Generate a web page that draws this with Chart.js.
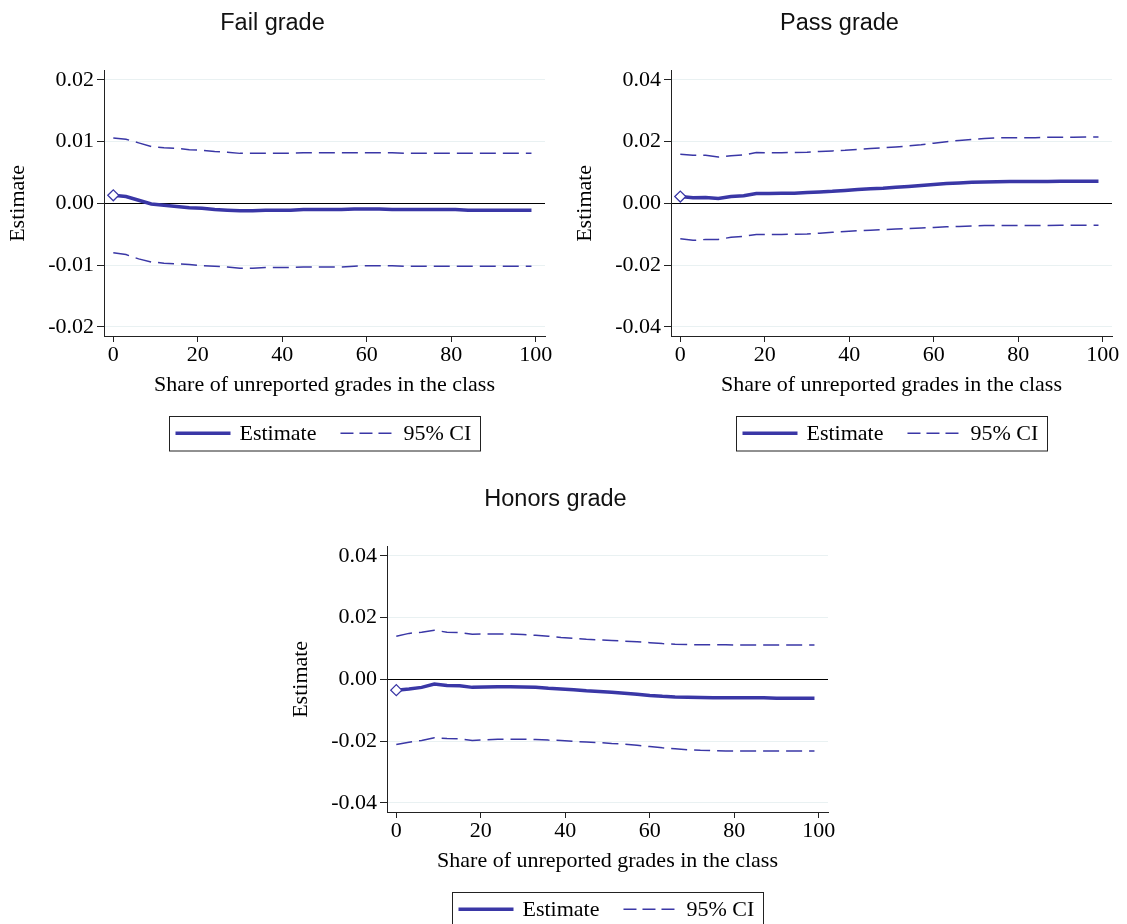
<!DOCTYPE html>
<html>
<head>
<meta charset="utf-8">
<title>Estimates by share of unreported grades</title>
<script src="https://cdn.jsdelivr.net/npm/chart.js@4.4.1/dist/chart.umd.min.js"></script>
<style>
    html, body { margin: 0; padding: 0; background: #fff; overflow: hidden; }
    #wrap { position: relative; width: 1127px; height: 924px; }
    #wrap canvas { position: absolute; }
</style>
</head>
<body>
<div id="wrap">
    <canvas id="failChart" width="553" height="460" style="left:0px;top:0px"></canvas>
    <canvas id="passChart" width="553" height="460" style="left:567px;top:0px"></canvas>
    <canvas id="honorsChart" width="553" height="460" style="left:283px;top:476px"></canvas>
</div>
<script>
// Share of unreported grades in the class (x values)
const shareX = [0, 3, 6, 9, 12, 15, 18, 21, 24, 27, 30, 33, 36, 39, 42, 45, 48,
    51, 54, 57, 60, 63, 66, 69, 72, 75, 78, 81, 84, 87, 90, 93, 96, 99];
const xTicks = [0, 20, 40, 60, 80, 100];

// Fail grade
const failEstimate = [0.0013, 0.0011, 0.0005, -0.0001, -0.0003, -0.0005, -0.0007, -0.0008, -0.0010, -0.0011,
    -0.0012, -0.0012, -0.0011, -0.0011, -0.0011, -0.0010, -0.0010, -0.0010, -0.0010, -0.0009,
    -0.0009, -0.0009, -0.0010, -0.0010, -0.0010, -0.0010, -0.0010, -0.0010, -0.0011, -0.0011,
    -0.0011, -0.0011, -0.0011, -0.0011];
const failUpper = [0.0106, 0.0104, 0.0098, 0.0092, 0.0090, 0.0089, 0.0087, 0.0086, 0.0084, 0.0083,
    0.0081, 0.0081, 0.0081, 0.0081, 0.0081, 0.0082, 0.0082, 0.0082, 0.0082, 0.0082,
    0.0082, 0.0082, 0.0082, 0.0081, 0.0081, 0.0081, 0.0081, 0.0081, 0.0081, 0.0081,
    0.0081, 0.0081, 0.0081, 0.0081];
const failLower = [-0.0080, -0.0083, -0.0090, -0.0095, -0.0097, -0.0098, -0.0099, -0.0101, -0.0102, -0.0103,
    -0.0105, -0.0105, -0.0104, -0.0104, -0.0104, -0.0103, -0.0103, -0.0103, -0.0103, -0.0102,
    -0.0101, -0.0101, -0.0101, -0.0102, -0.0102, -0.0102, -0.0102, -0.0102, -0.0102, -0.0102,
    -0.0102, -0.0102, -0.0102, -0.0102];
const failTicks = [-0.02, -0.01, 0, 0.01, 0.02];

// Pass grade
const passEstimate = [0.0022, 0.0018, 0.0019, 0.0016, 0.0022, 0.0025, 0.0032, 0.0032, 0.0033, 0.0033,
    0.0035, 0.0037, 0.0039, 0.0042, 0.0045, 0.0047, 0.0049, 0.0052, 0.0055, 0.0058,
    0.0061, 0.0064, 0.0066, 0.0068, 0.0069, 0.0070, 0.0071, 0.0071, 0.0071, 0.0071,
    0.0072, 0.0072, 0.0072, 0.0072];
const passUpper = [0.0159, 0.0156, 0.0156, 0.0150, 0.0154, 0.0157, 0.0165, 0.0164, 0.0164, 0.0165,
    0.0166, 0.0168, 0.0170, 0.0172, 0.0175, 0.0178, 0.0180, 0.0183, 0.0186, 0.0190,
    0.0195, 0.0200, 0.0204, 0.0207, 0.0210, 0.0212, 0.0213, 0.0213, 0.0213, 0.0214,
    0.0214, 0.0214, 0.0215, 0.0215];
const passLower = [-0.0115, -0.0120, -0.0117, -0.0117, -0.0110, -0.0107, -0.0101, -0.0101, -0.0101, -0.0100,
    -0.0099, -0.0097, -0.0094, -0.0091, -0.0089, -0.0087, -0.0085, -0.0083, -0.0082, -0.0080,
    -0.0078, -0.0076, -0.0075, -0.0073, -0.0072, -0.0072, -0.0072, -0.0072, -0.0072, -0.0072,
    -0.0071, -0.0071, -0.0071, -0.0071];
const passTicks = [-0.04, -0.02, 0, 0.02, 0.04];

// Honors grade
const honorsEstimate = [-0.0035, -0.0031, -0.0026, -0.0015, -0.0020, -0.0021, -0.0026, -0.0025, -0.0024, -0.0024,
    -0.0025, -0.0026, -0.0029, -0.0031, -0.0034, -0.0037, -0.0039, -0.0042, -0.0045, -0.0048,
    -0.0052, -0.0055, -0.0057, -0.0058, -0.0059, -0.0060, -0.0060, -0.0060, -0.0060, -0.0060,
    -0.0061, -0.0061, -0.0061, -0.0061];
const honorsUpper = [0.0140, 0.0149, 0.0153, 0.0159, 0.0153, 0.0152, 0.0146, 0.0147, 0.0147, 0.0147,
    0.0145, 0.0143, 0.0140, 0.0136, 0.0133, 0.0130, 0.0128, 0.0126, 0.0124, 0.0122,
    0.0119, 0.0116, 0.0114, 0.0113, 0.0112, 0.0112, 0.0112, 0.0111, 0.0111, 0.0111,
    0.0111, 0.0111, 0.0111, 0.0111];
const honorsLower = [-0.0211, -0.0204, -0.0198, -0.0189, -0.0192, -0.0193, -0.0198, -0.0196, -0.0194, -0.0194,
    -0.0194, -0.0195, -0.0197, -0.0198, -0.0201, -0.0203, -0.0205, -0.0208, -0.0210, -0.0214,
    -0.0218, -0.0222, -0.0225, -0.0228, -0.0230, -0.0231, -0.0232, -0.0232, -0.0232, -0.0232,
    -0.0232, -0.0232, -0.0232, -0.0232];
const honorsTicks = [-0.04, -0.02, 0, 0.02, 0.04];

const LINE_COLOR = '#3a37a6';
const SERIF = "'Liberation Serif', 'Times New Roman', serif";
const SANS = "'Liberation Sans', Arial, sans-serif";

// Boxed legend below the x axis title, centred on the plot area
const boxLegend = {
    id: 'boxLegend',
    afterDraw(chart) {
        const ctx = chart.ctx;
        const area = chart.chartArea;
        const entries = [
            { text: 'Estimate', width: 3.5, dash: [], sample: 55, gap: 9 },
            { text: '95% CI', width: 1.5, dash: [13, 6], sample: 51, gap: 12 }
        ];
        ctx.save();
        ctx.font = '22px ' + SERIF;
        let total = 6 + 9;
        entries.forEach((e, i) => {
            e.textW = ctx.measureText(e.text).width;
            total += e.sample + e.gap + e.textW + (i > 0 ? 24 : 0);
        });
        const top = area.bottom + 80;
        const h = 34.5;
        const left = Math.round((area.left + area.right) / 2 - total / 2) + 0.5;
        ctx.strokeStyle = '#222';
        ctx.lineWidth = 1;
        ctx.strokeRect(left, Math.round(top) + 0.5, Math.round(total), h);

        const cy = top + h / 2;
        let x = left + 6;
        entries.forEach((e, i) => {
            if (i > 0) x += 24;
            ctx.beginPath();
            ctx.strokeStyle = LINE_COLOR;
            ctx.lineWidth = e.width;
            ctx.setLineDash(e.dash);
            ctx.moveTo(x, cy);
            ctx.lineTo(x + e.sample, cy);
            ctx.stroke();
            ctx.setLineDash([]);
            x += e.sample + e.gap;
            ctx.fillStyle = '#000';
            ctx.textBaseline = 'middle';
            ctx.textAlign = 'left';
            ctx.fillText(e.text, x, cy + 1);
            x += e.textW;
        });
        ctx.restore();
    }
};

function buildPoints(values) {
    return values.map((v, i) => ({ x: shareX[i], y: v }));
}

function createPanel(canvasId, title, estimate, upper, lower, yTicks, yLimit) {
    const ctx = document.getElementById(canvasId);
    return new Chart(ctx, {
        type: 'line',
        data: {
            datasets: [{
                label: 'Estimate',
                data: buildPoints(estimate),
                borderColor: LINE_COLOR,
                borderWidth: 3.5,
                tension: 0,
                pointStyle: 'rectRot',
                pointRadius: c => (c.dataIndex === 0 ? 5.5 : 0),
                pointBackgroundColor: '#fff',
                pointBorderColor: LINE_COLOR,
                pointBorderWidth: 1.3,
                order: 0
            }, {
                label: '95% CI',
                data: buildPoints(upper),
                borderColor: LINE_COLOR,
                borderWidth: 1.5,
                borderDash: [16, 7],
                pointRadius: 0,
                tension: 0,
                order: 1
            }, {
                label: '95% CI lower',
                data: buildPoints(lower),
                borderColor: LINE_COLOR,
                borderWidth: 1.5,
                borderDash: [16, 7],
                pointRadius: 0,
                tension: 0,
                order: 1
            }]
        },
        options: {
            responsive: false,
            animation: false,
            layout: { padding: { left: 0, right: 8, top: 0, bottom: 54 } },
            plugins: {
                legend: { display: false },
                tooltip: { enabled: false },
                title: {
                    display: true,
                    text: title,
                    color: '#111',
                    font: { family: SANS, size: 23.5, weight: 'normal' },
                    padding: { top: 9.6, bottom: 32.9 }
                }
            },
            scales: {
                x: {
                    type: 'linear',
                    min: -2.2,
                    max: 102.2,
                    afterBuildTicks: s => { s.ticks = xTicks.map(v => ({ value: v })); },
                    afterFit: s => { s.height = 70; s.paddingLeft = 0; s.paddingRight = 0; },
                    ticks: {
                        color: '#000',
                        padding: 0,
                        font: { family: SERIF, size: 22 },
                        maxRotation: 0,
                        callback: v => String(v)
                    },
                    grid: { drawOnChartArea: false, tickLength: 6, tickColor: '#222' },
                    border: { display: true, color: '#222', width: 1 },
                    title: {
                        display: true,
                        text: 'Share of unreported grades in the class',
                        color: '#000',
                        font: { family: SERIF, size: 22 },
                        padding: { top: 0, bottom: 7.8 }
                    }
                },
                y: {
                    type: 'linear',
                    min: -yLimit,
                    max: yLimit,
                    afterBuildTicks: s => { s.ticks = yTicks.map(v => ({ value: v })); },
                    afterFit: s => { s.width = 104; s.paddingTop = 0; s.paddingBottom = 0; },
                    ticks: {
                        color: '#000',
                        padding: 3,
                        font: { family: SERIF, size: 22 },
                        callback: v => (Math.abs(v) < 1e-9 ? '0.00' : v.toFixed(2))
                    },
                    grid: {
                        color: c => (c.tick && Math.abs(c.tick.value) < 1e-9 ? '#000' : '#e9f1f2'),
                        lineWidth: 1,
                        tickLength: 7,
                        tickColor: '#222'
                    },
                    border: { display: true, color: '#222', width: 1 },
                    title: {
                        display: true,
                        text: 'Estimate',
                        color: '#000',
                        font: { family: SERIF, size: 22 },
                        padding: { top: 4.8, bottom: 0 }
                    }
                }
            }
        },
        plugins: [boxLegend]
    });
}

document.addEventListener('DOMContentLoaded', function() {
    createPanel('failChart', 'Fail grade', failEstimate, failUpper, failLower, failTicks, 0.0215);
    createPanel('passChart', 'Pass grade', passEstimate, passUpper, passLower, passTicks, 0.043);
    createPanel('honorsChart', 'Honors grade', honorsEstimate, honorsUpper, honorsLower, honorsTicks, 0.043);
});
</script>
</body>
</html>
